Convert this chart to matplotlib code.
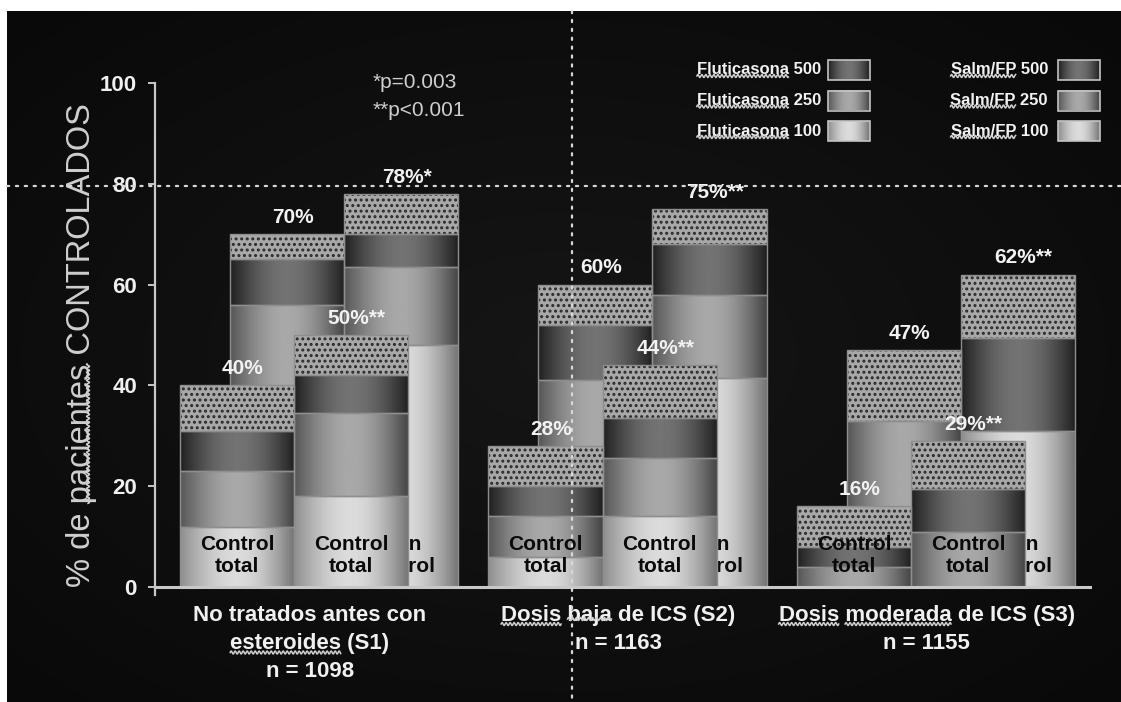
import numpy as np
import matplotlib
matplotlib.use("Agg")
import matplotlib.pyplot as plt
from matplotlib.patches import Rectangle
from matplotlib.transforms import IdentityTransform

plt.rcParams["font.family"] = ["Liberation Sans", "DejaVu Sans"]
plt.rcParams["hatch.linewidth"] = 1.4

# -----------------------------
# Data
# -----------------------------
groups = [
    "No tratados antes con\nesteroides (S1)\nn = 1098",
    "Dosis baja de ICS (S2)\nn = 1163",
    "Dosis moderada de ICS (S3)\nn = 1155",
]

# % of patients at the top of each bar
flu_total = [40, 28, 16]
flu_well = [70, 60, 47]
salm_total = [50, 44, 29]
salm_well = [78, 75, 62]
salm_total_sig = ["**", "**", "**"]
salm_well_sig = ["*", "**", "**"]

# tops of the 100 / 250 / 500 dose layers inside each bar
# (the dotted part fills the rest up to the bar total)
flu_total_layers = [[12, 23, 31], [6, 14, 20], [0, 4, 8]]
flu_well_layers = [[28, 56, 65], [20, 41, 52], [8, 33, 33]]
salm_total_layers = [[18, 34.5, 42], [14, 25.5, 33.5], [0, 11, 19.5]]
salm_well_layers = [[48, 63.5, 70], [41.5, 58, 68], [31, 31, 49.5]]

legend_doses = ["500", "250", "100"]

# -----------------------------
# Styling helpers
# -----------------------------
W, H = 1121, 702
BAR_W = 0.37
BACK_SHIFT = 0.162
# grey levels: left edge, highlight, right edge
SHADES = {
    "light": (0.56, 0.86, 0.46),
    "mid": (0.34, 0.66, 0.27),
    "dark": (0.13, 0.45, 0.13),
}
DOSE_LEVEL = {"100": "light", "250": "mid", "500": "dark"}


def shade(level, n=80):
    lo_l, peak, lo_r = SHADES[level]
    t = np.linspace(0, 1, n)
    tp = 0.5
    v = np.where(
        t < tp,
        lo_l + (peak - lo_l) * np.sin(np.pi / 2 * t / tp),
        lo_r + (peak - lo_r) * np.cos(np.pi / 2 * (t - tp) / (1 - tp)),
    )
    return v[None, :]


def draw_bar(ax, xc, layers, total, z, caption, text_dx=0.0):
    x0, x1 = xc - BAR_W / 2, xc + BAR_W / 2
    bottoms = [0] + list(layers[:2])
    for level, b, t in zip(["light", "mid", "dark"], bottoms, layers):
        if t <= b:
            continue
        ax.imshow(shade(level), cmap="gray", vmin=0, vmax=1, aspect="auto",
                  extent=[x0, x1, b, t], interpolation="bilinear", zorder=z)
        ax.add_patch(Rectangle((x0, b), BAR_W, t - b, fill=False,
                               edgecolor="#8e8e8e", lw=1.0, zorder=z + 0.1))
    top3 = layers[2]
    ax.add_patch(Rectangle((x0, top3), BAR_W, total - top3, facecolor="#a8a8a8",
                           edgecolor="#2a2a2a", hatch="...", lw=0, zorder=z))
    ax.add_patch(Rectangle((x0, top3), BAR_W, total - top3, fill=False,
                           edgecolor="#8e8e8e", lw=1.0, zorder=z + 0.1))
    ax.text(xc + text_dx, 6.2, caption, ha="center", va="center", fontsize=15,
            fontweight="bold", color="#0a0a0a", linespacing=1.2, zorder=z + 0.5)


def squiggle(ov, text, word, renderer, vertical=False):
    """Wavy spell-check underline across the foot of one word of a single-line text."""
    s = text.get_text()
    fp = text.get_fontproperties()
    pre, _, _ = renderer.get_text_width_height_descent(s[:s.index(word)], fp, ismath=False)
    ww, _, d = renderer.get_text_width_height_descent(word, fp, ismath=False)
    bb = text.get_window_extent(renderer)
    u = np.arange(0, ww, 0.5)
    wave = 1.5 * np.sin(2 * np.pi * u / 4.0)
    if vertical:
        ys = bb.y0 + pre + u
        xs = bb.x1 - d - 2 + wave
    else:
        xs = bb.x0 + pre + u
        ys = bb.y0 + d + 1.5 + wave
    ov.plot(xs, ys, color="#cfcfcf", lw=1.1, transform=IdentityTransform(), zorder=20)


# -----------------------------
# Figure
# -----------------------------
fig = plt.figure(figsize=(W / 100, H / 100), dpi=100, facecolor="white")

# dark slide background
bg = fig.add_axes([7 / W, 0, 1 - 7 / W, 1 - 11 / H], zorder=0)
yy, xx = np.mgrid[-1:1:200j, -1:1:300j]
glow = 0.085 - 0.035 * np.clip(np.sqrt(xx ** 2 + yy ** 2), 0, 1.4)
bg.imshow(glow, cmap="gray", vmin=0, vmax=1, aspect="auto", interpolation="bilinear")
bg.axis("off")

ax = fig.add_axes([155 / W, 1 - 587 / H, (1090 - 155) / W, (587 - 83) / H], zorder=1)
ax.patch.set_alpha(0)

x = np.arange(len(groups))
for i in range(len(groups)):
    fl = x[i] - BACK_SHIFT / 2 - BAR_W / 2
    fr = x[i] + BAR_W / 2 - BACK_SHIFT / 2
    draw_bar(ax, fl + BACK_SHIFT, flu_well_layers[i], flu_well[i], 2, "Bien\ncontrol", -0.006)
    draw_bar(ax, fr + BACK_SHIFT, salm_well_layers[i], salm_well[i], 2, "Bien\ncontrol", -0.006)
    draw_bar(ax, fl, flu_total_layers[i], flu_total[i], 4, "Control\ntotal")
    draw_bar(ax, fr, salm_total_layers[i], salm_total[i], 4, "Control\ntotal")

    labels = [
        (fl, flu_total[i], f"{flu_total[i]}%"),
        (fl + BACK_SHIFT, flu_well[i], f"{flu_well[i]}%"),
        (fr, salm_total[i], f"{salm_total[i]}%{salm_total_sig[i]}"),
        (fr + BACK_SHIFT, salm_well[i], f"{salm_well[i]}%{salm_well_sig[i]}"),
    ]
    for lx, ly, s in labels:
        ax.annotate(s, (lx, ly), xytext=(4, 12), textcoords="offset points",
                    ha="center", va="center", fontsize=15, fontweight="bold",
                    color="#f2f2f2", zorder=10, annotation_clip=False)

ax.set_xlim((155 - 319) / 308.5, (1090 - 319) / 308.5)
ax.set_ylim(0, 100)

for side in ["top", "right"]:
    ax.spines[side].set_visible(False)
ax.spines["left"].set_color("#c8c8c8")
ax.spines["left"].set_linewidth(1.6)
ax.spines["left"].set_bounds(-1.5, 100)
ax.spines["bottom"].set_color("#c8c8c8")
ax.spines["bottom"].set_linewidth(2.2)
ax.spines["bottom"].set_zorder(6)

ax.set_yticks([0, 20, 40, 60, 80, 100])
ax.tick_params(axis="y", direction="out", length=5, width=1.4, color="#c8c8c8",
               labelsize=16, labelcolor="#f0f0f0", pad=8)
for lbl in ax.get_yticklabels():
    lbl.set_fontweight("bold")
ax.set_xticks([])

# group captions, one text per line
cat_lines = []
for i, g in enumerate(groups):
    for j, line in enumerate(g.split("\n")):
        t = ax.text(x[i] - 0.03, -0.0556 - j * 0.0565, line, transform=ax.get_xaxis_transform(),
                    ha="center", va="center", fontsize=16, fontweight="bold",
                    color="#f0f0f0", clip_on=False)
        cat_lines.append(t)

ax.set_ylabel("% de pacientes CONTROLADOS", fontsize=23.5, color="#cfcfcf")
ax.yaxis.set_label_coords(-0.062, 0.48)

# -----------------------------
# Overlay: guides, legend, p-values (pixel coordinates)
# -----------------------------
ov = fig.add_axes([0, 0, 1, 1], zorder=3)
ov.set_xlim(0, W)
ov.set_ylim(H, 0)
ov.axis("off")
ov.patch.set_alpha(0)

ov.plot([7, W], [186, 186], ls=(0, (1, 3)), lw=1.6, color="#d8d8d8",
        dash_capstyle="round")
ov.plot([572, 572], [11, H], ls=(0, (1, 3)), lw=1.6, color="#d8d8d8",
        dash_capstyle="round")

legend_texts = []
for i, dose in enumerate(legend_doses):
    yc = 70 + i * 30.5
    for name, tx, sx in [("Fluticasona", 821, 828), ("Salm/FP", 1048, 1058)]:
        t = ov.text(tx, yc, f"{name} {dose}", ha="right", va="center", fontsize=12,
                    fontweight="bold", color="#f2f2f2")
        legend_texts.append((t, name))
        ov.imshow(shade(DOSE_LEVEL[dose]), cmap="gray", vmin=0, vmax=1,
                  aspect="auto", extent=[sx, sx + 42, yc + 10, yc - 10],
                  interpolation="bilinear")
        ov.add_patch(Rectangle((sx, yc - 10), 42, 20, fill=False,
                               edgecolor="#c4c4c4", lw=1.2))

ov.text(373, 82, "*p=0.003", ha="left", va="center", fontsize=15, color="#cfcfcf")
ov.text(373, 110, "**p<0.001", ha="left", va="center", fontsize=15, color="#cfcfcf")

ov.set_xlim(0, W)
ov.set_ylim(H, 0)

# spell-check underlines carried over from the slide
fig.canvas.draw()
renderer = fig.canvas.get_renderer()
for t, name in legend_texts:
    squiggle(ov, t, name, renderer)
for t in cat_lines:
    for word in ["esteroides", "Dosis", "baja", "moderada"]:
        if word in t.get_text():
            squiggle(ov, t, word, renderer)
squiggle(ov, ax.yaxis.label, "pacientes", renderer, vertical=True)

fig.savefig("out.png", dpi=100, facecolor=fig.get_facecolor())
